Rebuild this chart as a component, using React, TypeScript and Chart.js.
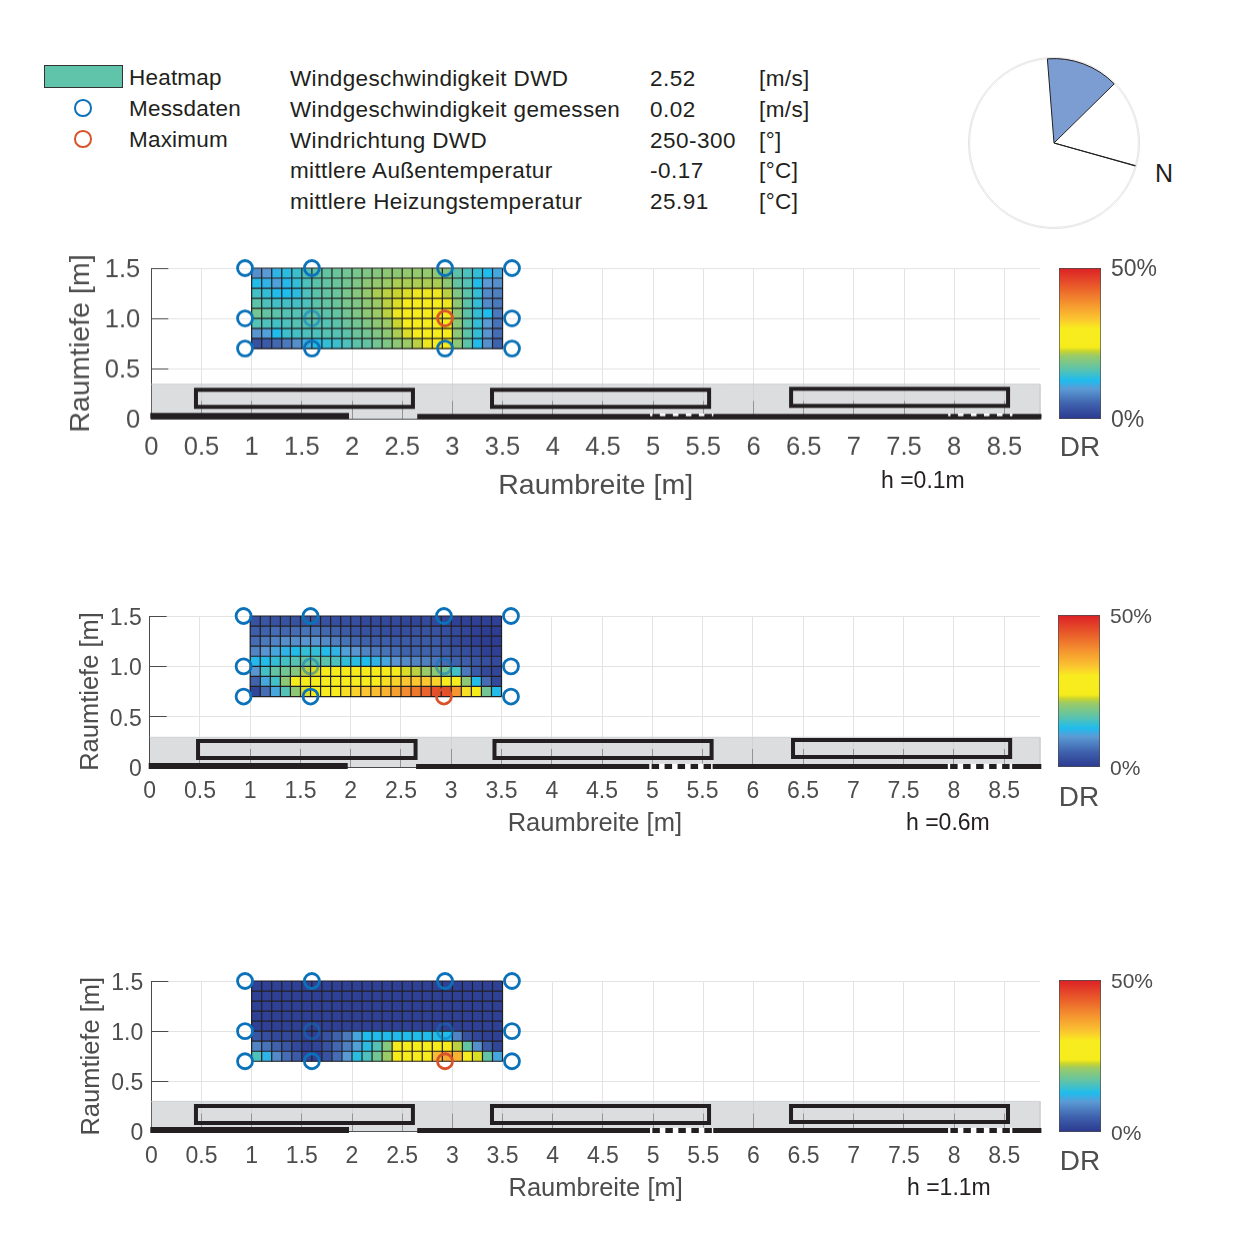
import React, { useEffect, useRef } from 'react';
import { Chart, registerables } from 'chart.js';

Chart.register(...registerables);

const FONT = '"Liberation Sans", Arial, sans-serif';
const TEXT = '#231f20';
const AXIS_TEXT = '#4d4d4d';

// Top legend + info table
const legendLabels = ['Heatmap', 'Messdaten', 'Maximum'];
const infoNames = [
  'Windgeschwindigkeit DWD',
  'Windgeschwindigkeit gemessen',
  'Windrichtung DWD',
  'mittlere Außentemperatur',
  'mittlere Heizungstemperatur',
];
const infoValues = ['2.52', '0.02', '250-300', '-0.17', '25.91'];
const infoUnits = ['[m/s]', '[m/s]', '[°]', '[°C]', '[°C]'];

// Wind rose: N line, rest, wind sector, rest (degrees clockwise from N)
const windSlices = [0.3, 249.7, 50, 60];

// Axis ticks
const xTickLabels = ['0', '0.5', '1', '1.5', '2', '2.5', '3', '3.5', '4', '4.5', '5', '5.5', '6', '6.5', '7', '7.5', '8', '8.5'];
const yTickLabels = ['0', '0.5', '1.0', '1.5'];
const colorbarTickLabels = ['0%', '50%'];
const colorbarRange = [[0, 50]];

// Heatmap cell centres and lower row edges (rows listed from the top)
const cellX = [1.05, 1.15, 1.25, 1.35, 1.45, 1.55, 1.65, 1.75, 1.85, 1.95, 2.05, 2.15, 2.25, 2.35, 2.45, 2.55, 2.65, 2.75, 2.85, 2.95, 3.05, 3.15, 3.25, 3.35, 3.45];
const rowBottom = [1.4, 1.3, 1.2, 1.1, 1.0, 0.9, 0.8, 0.7];

// Heatmap raster lines
const rasterX = [1.0, 1.1, 1.2, 1.3, 1.4, 1.5, 1.6, 1.7, 1.8, 1.9, 2.0, 2.1, 2.2, 2.3, 2.4, 2.5, 2.6, 2.7, 2.8, 2.9, 3.0, 3.1, 3.2, 3.3, 3.4, 3.5];
const rasterY = [0.7, 0.8, 0.9, 1.0, 1.1, 1.2, 1.3, 1.4, 1.5];

// Draught rate in % per cell, h = 0.1 m
const cellsLow = [
  [9, 10, 12, 13.5, 14.5, 15.5, 16.5, 17, 17.5, 18, 18.5, 19, 19.5, 20, 20, 20.5, 20.5, 20.5, 20, 19, 16.5, 15.5, 14, 12.8, 11],
  [13, 12, 10.5, 12.5, 14, 15.5, 16.5, 17, 17.5, 18, 19, 20, 20.5, 21, 21.5, 21.5, 21.5, 21.5, 21.5, 20, 17, 16, 13, 10, 9],
  [15, 14, 13, 12.8, 13.5, 15.5, 16.5, 17, 17.5, 18.5, 19.5, 20.5, 21.5, 22, 22.5, 23, 23.5, 23.5, 23.5, 22, 19, 16.5, 14, 8.5, 7.5],
  [16.5, 15.5, 15, 15, 15, 15.5, 16.5, 17, 17.5, 18.5, 19, 20, 21, 22, 23, 24, 24.5, 25, 25, 23.5, 20, 16.5, 14, 8.5, 7],
  [18, 17, 16.5, 16, 16, 16, 16.5, 16.5, 17, 18, 19, 20, 21, 22, 23.5, 24.5, 25, 25, 25, 24, 20, 16.5, 14, 12.8, 7],
  [16, 15.5, 15, 15.5, 16, 16, 16, 16, 16.5, 17.5, 18, 19, 20, 21, 22.5, 24, 25, 25, 25, 24, 20, 16.5, 14, 10, 6.5],
  [9.5, 10.5, 12.8, 14.5, 15, 15.5, 15.5, 16, 16, 16.5, 17.5, 18, 19, 20, 21.5, 23, 24.5, 25, 25, 24, 20, 16.5, 14, 9.5, 6],
  [3, 4, 5.5, 7, 9, 11.5, 13, 14, 14.5, 15.5, 16.5, 17, 18, 19, 20, 21, 22, 23.5, 24.5, 24, 20, 16.5, 13, 9, 5],
];

// h = 0.6 m
const cellsMid = [
  [3, 3.5, 3, 3, 3, 3.5, 3.5, 3, 2.5, 2.5, 2.5, 2, 2, 2, 2, 1.5, 1.5, 2, 2, 1.5, 1, 1, 1, 1, 1],
  [4.5, 5, 6, 5.5, 6, 6.5, 6.5, 5.5, 5, 4, 3.5, 3, 3, 2.5, 2.5, 2.5, 3, 3, 3, 2.5, 2, 1.5, 1, 0.5, 0.5],
  [6, 7, 8, 9, 9, 9.5, 9.5, 8.5, 7.5, 6.5, 5.5, 5, 4.5, 4.5, 4, 4, 4, 4, 4, 3, 2, 1.5, 1, 0.5, 0.5],
  [8, 9.5, 11, 12, 13, 14, 14, 13, 12, 10.5, 9.5, 8, 7, 6.5, 6, 5, 5, 5, 5, 4, 3, 2.5, 2, 1, 1],
  [12.5, 13, 14, 15, 16, 17, 17, 16.5, 15.5, 14, 13.5, 12.8, 12, 11, 9.5, 8.5, 8, 7.5, 7, 6, 5, 4.5, 3.5, 2.5, 2],
  [9.5, 15, 17, 18, 19.5, 22, 23, 24, 25, 25, 25, 25, 25, 25, 24, 23, 22, 21, 20, 18, 15, 7, 4, 2, 1.5],
  [5, 11, 15, 20, 25, 25, 25, 26, 26, 26, 27, 27, 28, 31, 32, 33, 33, 33, 32, 30, 26, 20, 13, 6, 2],
  [1.5, 6, 11, 16, 20, 23, 25, 27, 29, 31, 32, 33, 34, 35, 37, 39, 41, 43, 45, 45, 38, 31, 25, 18, 13],
];

// h = 1.1 m
const cellsHigh = [
  [1, 1, 1, 1, 1, 1, 1, 1, 1, 1, 1, 1, 1, 1, 1, 1, 1, 1, 1, 1, 1, 1, 1, 1, 1],
  [1, 1, 1, 1, 1, 1, 1, 1, 1, 1, 1, 1, 1, 1, 1, 1, 1, 1, 1, 1, 1, 1, 1, 1, 1],
  [1, 1, 1, 1, 1, 1, 1, 1, 1, 1, 1, 1, 1, 1, 1, 1, 1, 1, 1, 1, 1, 1, 1, 1, 1],
  [1, 1, 1, 1, 1, 1, 1, 1, 1, 1, 1, 1, 1, 1, 1, 1, 1, 1, 1, 1, 1, 1, 1, 1, 1],
  [1, 1, 1, 1, 1, 1, 1, 1, 1, 1, 1, 1, 1, 1, 1, 1, 1, 1, 1, 1, 1, 1, 1, 1, 1],
  [3.5, 2.5, 2, 2, 1.5, 1, 1, 3, 5, 7, 11, 12.8, 13, 13, 13, 13, 13, 13, 13, 12.8, 8, 3, 1.5, 1, 1],
  [8, 6.5, 5, 3.5, 2, 1, 1.5, 3, 5.5, 7.5, 10.5, 13.5, 16, 19.5, 24, 25, 25, 25, 25, 25, 22, 17, 9, 4, 1.5],
  [15.5, 12, 8.5, 6, 4, 1.5, 1, 3, 6, 10, 13.5, 15.5, 18, 21, 24, 25, 25, 30, 34, 36, 35, 26, 23, 17, 11],
];

// Measuring points in the room
const measureX = [0.934, 1.6, 2.927, 3.594];
const measureY = [1.5, 1.0, 0.7];
const maxPointLow = [2.927, 1.0];
const maxPointMid = [2.927, 0.7];
const maxPointHigh = [2.927, 0.7];

// Windows as [x0, x1, yLow, yHigh]
const windowsLow = [
  [0.445, 2.607, 0.119, 0.288],
  [3.395, 5.558, 0.119, 0.288],
  [6.375, 8.537, 0.129, 0.298],
];
const windowsMid = [
  [0.481, 2.645, 0.089, 0.258],
  [3.43, 5.59, 0.089, 0.258],
  [6.4, 8.56, 0.099, 0.268],
];
const windowsHigh = [
  [0.445, 2.607, 0.085, 0.254],
  [3.395, 5.558, 0.085, 0.254],
  [6.375, 8.537, 0.095, 0.254],
];

// Wall runs along the bottom edge: [x0, x1]
const wallLeft = [-0.01, 1.97];
const wallRight = [2.65, 8.87];
const wallGaps = [[4.97, 5.6], [7.94, 8.58]];

// Colormap of the colorbar: [position 0..1, colour]
const colormap: [number, string][] = [
  [0, '#2b3990'],
  [0.1, '#3f62ad'],
  [0.2, '#5b9bd5'],
  [0.256, '#1fbcee'],
  [0.33, '#5cc3ab'],
  [0.42, '#9bcb66'],
  [0.45, '#c9d52e'],
  [0.475, '#f6ec1c'],
  [0.6, '#f8ec1e'],
  [0.66, '#fbc630'],
  [0.76, '#f5962f'],
  [0.88, '#e95a2a'],
  [1, '#dc1f26'],
];

function hexRgb(hex: string) {
  return [1, 3, 5].map((i) => parseInt(hex.slice(i, i + 2), 16));
}

function drColor(value: number) {
  const t = Math.min(1, Math.max(0, value / 50));
  for (let i = 1; i < colormap.length; i++) {
    if (t <= colormap[i][0]) {
      const [p0, c0] = colormap[i - 1];
      const [p1, c1] = colormap[i];
      const f = (t - p0) / (p1 - p0);
      const a = hexRgb(c0);
      const b = hexRgb(c1);
      return `rgb(${a.map((v, k) => Math.round(v + (b[k] - v) * f)).join(',')})`;
    }
  }
  return colormap[colormap.length - 1][1];
}

function rectPath(w: number[]) {
  const [x0, x1, lo, hi] = w;
  return [
    { x: x0, y: lo },
    { x: x0, y: hi },
    { x: x1, y: hi },
    { x: x1, y: lo },
    { x: x0, y: lo },
  ];
}

function lineSet(data: any[], color: string, width: number, order: number, extra: any = {}) {
  return {
    type: 'line',
    data,
    borderColor: color,
    borderWidth: width,
    pointRadius: 0,
    tension: 0,
    fill: false,
    clip: false,
    order,
    ...extra,
  };
}

// Axis labels must not push the plot area around, its position is fixed per panel
function fixAxis(s: any, width?: number, height?: number) {
  if (width !== undefined) s.width = width;
  if (height !== undefined) s.height = height;
  s.paddingTop = 0;
  s.paddingBottom = 0;
  s.paddingLeft = 0;
  s.paddingRight = 0;
}

function panelConfig(p: any) {
  const cells: any[] = [];
  const colors: string[] = [];
  p.cells.forEach((row: number[], r: number) => {
    row.forEach((v, c) => {
      cells.push({ x: cellX[c], y: [rowBottom[r], rowBottom[r] + 0.1] });
      colors.push(drColor(v));
    });
  });

  const points: any[] = [];
  const pointColors: string[] = [];
  measureY.forEach((y) => {
    measureX.forEach((x, i) => {
      if (x === p.maxPoint[0] && y === p.maxPoint[1]) return;
      points.push({ x, y });
      const inside = y === 1.0 && (i === 1 || i === 2);
      pointColors.push(inside ? 'rgba(11,114,185,0.5)' : '#0b72b9');
    });
  });

  const datasets: any[] = [
    lineSet(
      [{ x: 0, y: p.bandTop }, { x: p.xMax, y: p.bandTop }, { x: p.xMax, y: 0 }],
      '#d0d1d3',
      1,
      9,
      { fill: 'origin', backgroundColor: 'rgba(197,198,202,0.6)' },
    ),
    {
      type: 'bar',
      data: cells,
      backgroundColor: colors,
      borderWidth: 0,
      inflateAmount: 0.3,
      grouped: false,
      categoryPercentage: 1,
      barPercentage: 1,
      order: 8,
    },
    {
      type: 'scatter',
      data: points,
      showLine: false,
      pointRadius: 7.5,
      pointBorderWidth: 2.8,
      pointBackgroundColor: 'transparent',
      pointBorderColor: pointColors,
      clip: false,
      order: 2,
    },
    {
      type: 'scatter',
      data: [{ x: p.maxPoint[0], y: p.maxPoint[1] }],
      showLine: false,
      pointRadius: 7.5,
      pointBorderWidth: 2.8,
      pointBackgroundColor: 'transparent',
      pointBorderColor: '#d9532a',
      clip: false,
      order: 1,
    },
    lineSet([{ x: wallLeft[0], y: p.wallY[0] }, { x: wallLeft[1], y: p.wallY[0] }], TEXT, 6, 5),
    lineSet([{ x: wallRight[0], y: p.wallY[1] }, { x: wallRight[1], y: p.wallY[1] }], TEXT, 5, 5),
  ];
  rasterX.forEach((x) => {
    datasets.push(lineSet([{ x, y: 0.7 }, { x, y: 1.5 }], TEXT, 1.2, 7));
  });
  rasterY.forEach((y) => {
    datasets.push(lineSet([{ x: 1.0, y }, { x: 3.5, y }], TEXT, 1.2, 7));
  });
  p.windows.forEach((w: number[]) => {
    datasets.push(lineSet(rectPath(w), TEXT, 4, 6, { borderJoinStyle: 'miter', borderCapStyle: 'square' }));
  });
  wallGaps.forEach((g) => {
    datasets.push(
      lineSet([{ x: g[0], y: p.gapY }, { x: g[1], y: p.gapY }], '#ffffff', p.gapWidth, 4, {
        borderDash: [5.5, 7.5],
        borderDashOffset: 3.2,
      }),
    );
  });

  return {
    type: 'scatter',
    data: { datasets },
    options: {
      animation: false,
      responsive: false,
      events: [],
      layout: { padding: { top: 20, right: 20, left: 0, bottom: 0 } },
      plugins: { legend: { display: false }, tooltip: { enabled: false } },
      scales: {
        x: {
          type: 'linear',
          min: 0,
          max: p.xMax,
          offset: false,
          afterFit: (s: any) => fixAxis(s, undefined, p.xAxisHeight),
          grid: { offset: false, color: '#e3e3e3', tickColor: '#4a4a4a', tickLength: -18, lineWidth: 1 },
          border: { color: '#4a4a4a', width: 1 },
          ticks: {
            stepSize: 0.5,
            includeBounds: false,
            autoSkip: false,
            maxRotation: 0,
            minRotation: 0,
            padding: p.xTickPad,
            color: AXIS_TEXT,
            font: { family: FONT, size: p.tickSize },
            callback: (_v: any, i: number) => xTickLabels[i],
          },
          title: {
            display: true,
            text: 'Raumbreite [m]',
            color: AXIS_TEXT,
            padding: 0,
            font: { family: FONT, size: p.titleSize },
          },
        },
        y: {
          type: 'linear',
          min: 0,
          max: 1.5,
          afterFit: (s: any) => fixAxis(s, p.yAxisWidth),
          grid: { color: '#e3e3e3', tickColor: '#4a4a4a', tickLength: -17, lineWidth: 1 },
          border: { color: '#4a4a4a', width: 1 },
          ticks: {
            stepSize: 0.5,
            includeBounds: false,
            padding: p.yTickPad,
            labelOffset: p.yLabelOffset,
            color: AXIS_TEXT,
            font: { family: FONT, size: p.tickSize },
            callback: (_v: any, i: number) => yTickLabels[i],
          },
          title: {
            display: true,
            text: 'Raumtiefe [m]',
            color: AXIS_TEXT,
            padding: 0,
            font: { family: FONT, size: p.titleSize },
          },
        },
      },
    },
  };
}

function colorbarConfig(p: any) {
  return {
    type: 'bar',
    data: {
      labels: ['DR'],
      datasets: [
        {
          data: colorbarRange,
          backgroundColor: (ctx: any) => {
            const area = ctx.chart.chartArea;
            if (!area) return '#000';
            const g = ctx.chart.ctx.createLinearGradient(0, area.bottom, 0, area.top);
            colormap.forEach(([pos, c]) => g.addColorStop(pos, c));
            return g;
          },
          borderColor: '#4d4d4d',
          borderWidth: 1,
          borderSkipped: false,
          categoryPercentage: 1,
          barPercentage: 1,
        },
      ],
    },
    options: {
      animation: false,
      responsive: false,
      events: [],
      layout: { padding: { top: 16, left: 10, right: 0, bottom: 0 } },
      plugins: { legend: { display: false }, tooltip: { enabled: false } },
      scales: {
        x: {
          afterFit: (s: any) => fixAxis(s, undefined, p.dh),
          grid: { display: false },
          border: { display: false },
          ticks: { display: false },
          title: {
            display: true,
            text: 'DR',
            color: AXIS_TEXT,
            padding: 0,
            font: { family: FONT, size: 28 },
          },
        },
        y: {
          position: 'right',
          min: 0,
          max: 50,
          afterFit: (s: any) => fixAxis(s, 70),
          grid: { display: false, drawTicks: false },
          border: { display: false },
          ticks: {
            stepSize: 50,
            padding: 10,
            labelOffset: 2,
            color: AXIS_TEXT,
            font: { family: FONT, size: p.size },
            callback: (_v: any, i: number) => colorbarTickLabels[i],
          },
        },
      },
    },
  };
}

function roseConfig() {
  return {
    type: 'pie',
    data: {
      datasets: [
        {
          data: [360],
          backgroundColor: 'transparent',
          borderColor: '#e0e0e0',
          borderWidth: 0.8,
          weight: 1,
          order: 2,
        },
        {
          data: windSlices,
          backgroundColor: ['transparent', 'transparent', '#7b9dd2', 'transparent'],
          borderColor: TEXT,
          borderWidth: [1, 0, 1, 0],
          weight: 70,
          order: 1,
        },
      ],
    },
    options: {
      animation: false,
      responsive: false,
      events: [],
      rotation: 105.5,
      plugins: { legend: { display: false }, tooltip: { enabled: false } },
    },
  };
}

function ChartBox({ config, left, top, width, height }: any) {
  const ref = useRef<HTMLCanvasElement>(null);
  useEffect(() => {
    if (!ref.current) return;
    const chart = new Chart(ref.current, config);
    return () => chart.destroy();
  }, []);
  return (
    <canvas
      ref={ref}
      width={width}
      height={height}
      style={{ position: 'absolute', left, top, width, height }}
    />
  );
}

function Label({ x, y, size = 22.5, color = TEXT, spacing = 0, children }: any) {
  return (
    <span
      style={{
        position: 'absolute',
        left: x,
        top: y,
        transform: 'translateY(-50%)',
        fontFamily: FONT,
        fontSize: size,
        letterSpacing: spacing,
        color,
        whiteSpace: 'nowrap',
      }}
    >
      {children}
    </span>
  );
}

function Ring({ x, y, color }: any) {
  return (
    <div
      style={{
        position: 'absolute',
        left: x - 8.75,
        top: y - 8.75,
        width: 17.5,
        height: 17.5,
        boxSizing: 'border-box',
        border: `2.8px solid ${color}`,
        borderRadius: '50%',
      }}
    />
  );
}

const panels = [
  {
    cells: cellsLow, windows: windowsLow, maxPoint: maxPointLow, xMax: 8.855, bandTop: 0.345,
    wallY: [0.03, 0.025], gapY: 0.04, gapWidth: 2.5,
    left: 64, top: 268, areaHeight: 151, yAxisWidth: 87.3, xAxisHeight: 83.8,
    tickSize: 25.5, titleSize: 28.5, xTickPad: 31, yTickPad: 28, yLabelOffset: 2, heightLabel: 'h =0.1m', hx: 881, hy: 480,
  },
  {
    cells: cellsMid, windows: windowsMid, maxPoint: maxPointMid, xMax: 8.857, bandTop: 0.295,
    wallY: [0.01, 0.005], gapY: 0.005, gapWidth: 5.5,
    left: 76, top: 616, areaHeight: 151, yAxisWidth: 73.7, xAxisHeight: 72,
    tickSize: 23, titleSize: 25.5, xTickPad: 29, yTickPad: 25, yLabelOffset: 2.5, heightLabel: 'h =0.6m', hx: 906, hy: 822,
  },
  {
    cells: cellsHigh, windows: windowsHigh, maxPoint: maxPointHigh, xMax: 8.856, bandTop: 0.3,
    wallY: [0.015, 0.01], gapY: 0.01, gapWidth: 5.5,
    left: 77, top: 981, areaHeight: 150.5, yAxisWidth: 74.3, xAxisHeight: 72.5,
    tickSize: 23, titleSize: 25.5, xTickPad: 29.5, yTickPad: 25, yLabelOffset: 2.5, heightLabel: 'h =1.1m', hx: 907, hy: 1187,
  },
];

const colorbars = [
  { left: 1049, top: 268, area: 151, dh: 46, size: 23 },
  { left: 1048, top: 615, area: 152, dh: 48, size: 21 },
  { left: 1049, top: 980, area: 152, dh: 47, size: 21 },
];

const rowY = [79, 110, 141, 171, 202];

export default function App() {
  return (
    <div style={{ position: 'absolute', left: 0, top: 0, width: 1260, height: 1260, background: '#fff', overflow: 'hidden' }}>
      <div
        style={{
          position: 'absolute',
          left: 44,
          top: 65,
          width: 79,
          height: 23,
          boxSizing: 'border-box',
          background: '#5fc4aa',
          border: '1px solid #333',
        }}
      />
      <Ring x={83} y={108} color="#0b72b9" />
      <Ring x={83} y={139} color="#d9532a" />
      {legendLabels.map((t, i) => (
        <Label key={t} x={129} y={78 + i * 31} spacing={0.2}>{t}</Label>
      ))}
      {infoNames.map((t, i) => (
        <React.Fragment key={t}>
          <Label x={290} y={rowY[i]} spacing={0.36}>{t}</Label>
          <Label x={650} y={rowY[i]} spacing={0.5}>{infoValues[i]}</Label>
          <Label x={759} y={rowY[i]} spacing={0.4}>{infoUnits[i]}</Label>
        </React.Fragment>
      ))}
      <ChartBox config={roseConfig()} left={968} top={57} width={172} height={172} />
      <Label x={1155} y={173} size={25}>N</Label>

      {panels.map((p) => (
        <React.Fragment key={p.heightLabel}>
          <ChartBox
            config={panelConfig(p)}
            left={p.left}
            top={p.top - 20}
            width={1000 - p.left + 60}
            height={20 + p.areaHeight + p.xAxisHeight}
          />
          <Label x={p.hx} y={p.hy} size={23}>{p.heightLabel}</Label>
        </React.Fragment>
      ))}
      {colorbars.map((c) => (
        <ChartBox
          key={c.top}
          config={colorbarConfig(c)}
          left={c.left}
          top={c.top - 16}
          width={122}
          height={16 + c.area + c.dh}
        />
      ))}
    </div>
  );
}
